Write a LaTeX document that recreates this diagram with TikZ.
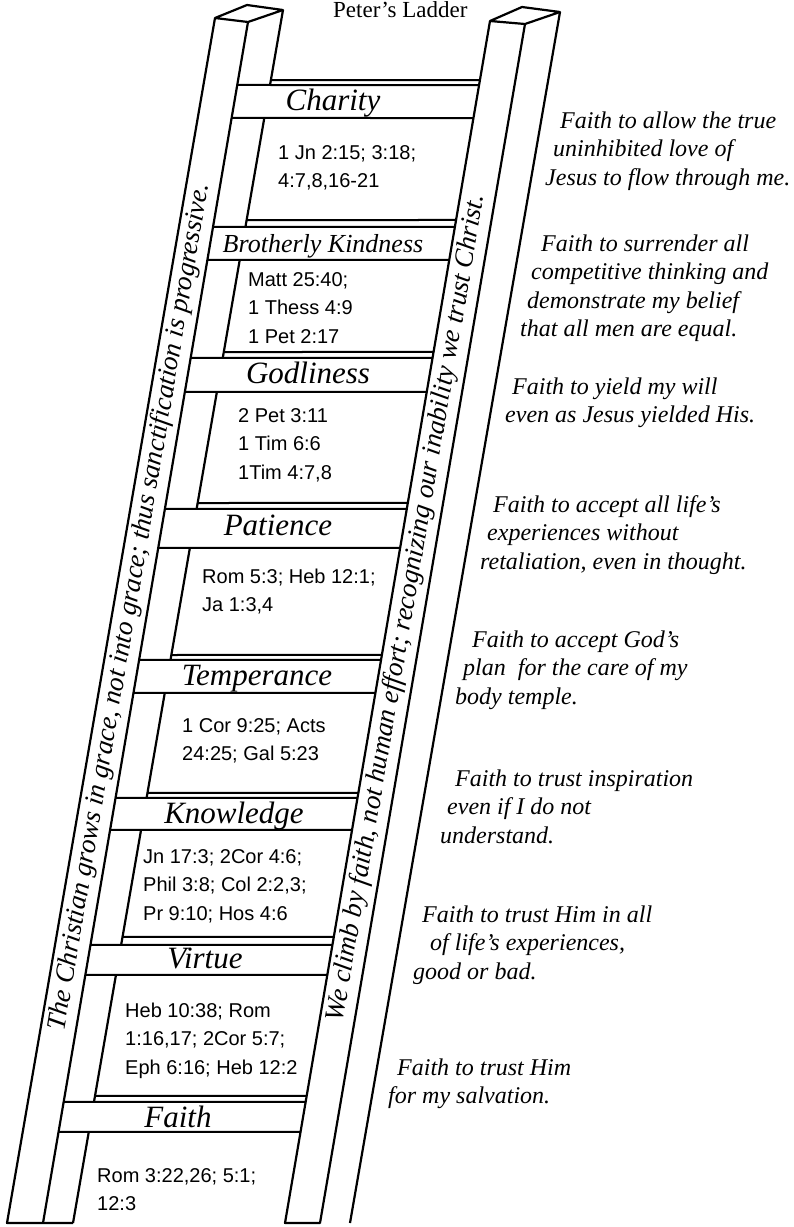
\documentclass[tikz,border=0pt]{standalone}
\usepackage{fontspec}
\setmainfont{Liberation Serif}
\setsansfont{Liberation Sans}

% point on a rail edge at height #2
\newcommand\onrail[2]{(intersection of #1t--#1b and 0,#2--100,#2)}
% lines hung from the first baseline
\newcommand\stack[1]{\begin{tabular}[t]{@{}l@{}}#1\end{tabular}}

\begin{document}
\begin{tikzpicture}[x=1pt,y=-1pt,
    rail/.style={line width=2.2pt,line join=round},
    rung/.style={line width=2pt},
    virtue/.style={font=\fontsize{31}{31}\selectfont\itshape,anchor=base,inner sep=0pt},
    refs/.style={font=\sffamily\fontsize{20}{28.5}\selectfont,anchor=base west,inner sep=0pt},
    note/.style={font=\fontsize{24}{28.5}\selectfont\itshape,anchor=base west,inner sep=0pt},
    motto/.style={font=\fontsize{27}{27}\selectfont\itshape,rotate=80.3,inner sep=0pt}
  ]
  \useasboundingbox (0,0) rectangle (793,1227);
  % rail edges
  \coordinate (LOt) at (215,18);  \coordinate (LOb) at (7,1223);
  \coordinate (LMt) at (248,22);  \coordinate (LMb) at (43,1223);
  \coordinate (LSt) at (283,10);  \coordinate (LSb) at (73,1223);
  \coordinate (RLt) at (490,21);  \coordinate (RLb) at (285,1223);
  \coordinate (RMt) at (525,24);  \coordinate (RMb) at (320,1223);
  \coordinate (RSt) at (560,12);  \coordinate (RSb) at (350,1223);

  % left rail
  \draw[rail] (LOt) -- (247,5) -- (LSt) -- (LMt) -- cycle;
  \draw[rail] (LOt) -- (LOb) -- (LSb);
  \draw[rail] (LMt) -- (LMb);
  \draw[rail] (LSt) -- \onrail{LS}{85};
  \foreach \a/\b in {118/227,260/358,392/509,548/660,693/798,830/945,975/1102,1132/1223}
    \draw[rail] \onrail{LS}{\a} -- \onrail{LS}{\b};

  % right rail
  \draw[rail] (RLt) -- (522,7) -- (RSt) -- (RMt) -- cycle;
  \draw[rail] (RLt) -- (RLb) -- (RMb) -- (RMt);
  \draw[rail] (RSt) -- (RSb);

  % rungs
  \foreach \bt/\ft/\bo in {80/85/118,220/227/260,352/358/392,503/509/548,
      655/660/693,793/798/830,937/945/975,1096/1102/1132} {
    \draw[rung] \onrail{LS}{\bt} -- \onrail{RL}{\bt};
    \draw[rung] \onrail{LM}{\ft} -- \onrail{RL}{\ft};
    \draw[rung] \onrail{LM}{\bo} -- \onrail{RL}{\bo};
  }

  \node[font=\fontsize{23}{23}\selectfont,anchor=base west,inner sep=0pt] (title) at (333,17) {Peter's Ladder};

  % virtues on the rungs
  \node[virtue] (charity) at (333,110) {Charity};
  \node[virtue,font=\fontsize{26}{26}\selectfont\itshape] (kindness) at (323,252) {Brotherly Kindness};
  \node[virtue] (godliness) at (308,383) {Godliness};
  \node[virtue] (patience) at (278,535) {Patience};
  \node[virtue] (temperance) at (257,685) {Temperance};
  \node[virtue] (knowledge) at (234,823) {Knowledge};
  \node[virtue] (virtue) at (205,968) {Virtue};
  \node[virtue] (faith) at (178,1127) {Faith};

  % texts between the rungs
  \node[refs] (charityrefs) at (278,159) {\stack{1 Jn 2:15; 3:18;\\4:7,8,16-21}};
  \node[refs] (kindnessrefs) at (248,286) {\stack{Matt 25:40;\\1 Thess 4:9\\1 Pet 2:17}};
  \node[refs] (godlinessrefs) at (238,422) {\stack{2 Pet 3:11\\1 Tim 6:6\\1Tim 4:7,8}};
  \node[refs] (patiencerefs) at (202,583) {\stack{Rom 5:3; Heb 12:1;\\Ja 1:3,4}};
  \node[refs] (temperancerefs) at (182,732) {\stack{1 Cor 9:25; Acts\\24:25; Gal 5:23}};
  \node[refs] (knowledgerefs) at (143,863) {\stack{Jn 17:3; 2Cor 4:6;\\Phil 3:8; Col 2:2,3;\\Pr 9:10; Hos 4:6}};
  \node[refs] (virtuerefs) at (125,1017) {\stack{Heb 10:38; Rom\\1:16,17; 2Cor 5:7;\\Eph 6:16; Heb 12:2}};
  \node[refs] (faithrefs) at (97,1182) {\stack{Rom 3:22,26; 5:1;\\12:3}};

  % along the rails
  \node[motto] (growth) at (130,607) {The Christian grows in grace, not into grace; thus sanctification is progressive.};
  \node[motto] (climb) at (407,608) {We climb by faith, not human effort; recognizing our inability we trust Christ.};

  % notes on the right
  \node[note] (charitynote) at (545,128) {\stack{\hspace*{15pt}Faith to allow the true\\\hspace*{8pt}uninhibited love of\\Jesus to flow through me.}};
  \node[note] (kindnessnote) at (520,251) {\stack{\hspace*{21pt}Faith to surrender all\\\hspace*{11pt}competitive thinking and\\\hspace*{7pt}demonstrate my belief\\that all men are equal.}};
  \node[note] (godlinessnote) at (505,394) {\stack{\hspace*{7pt}Faith to yield my will\\even as Jesus yielded His.}};
  \node[note] (patiencenote) at (480,512) {\stack{\hspace*{13pt}Faith to accept all life's\\\hspace*{7pt}experiences without\\retaliation, even in thought.}};
  \node[note] (temperancenote) at (455,647) {\stack{\hspace*{17pt}Faith to accept God's\\\hspace*{8pt}plan\ \ for the care of my\\body temple.}};
  \node[note] (knowledgenote) at (440,786) {\stack{\hspace*{15pt}Faith to trust inspiration\\\hspace*{7pt}even if I do not\\understand.}};
  \node[note] (virtuenote) at (413,922) {\stack{\hspace*{9pt}Faith to trust Him in all\\\hspace*{17pt}of life's experiences,\\good or bad.}};
  \node[note] (faithnote) at (388,1075) {\stack{\hspace*{9pt}Faith to trust Him\\for my salvation.}};
\end{tikzpicture}
\end{document}
